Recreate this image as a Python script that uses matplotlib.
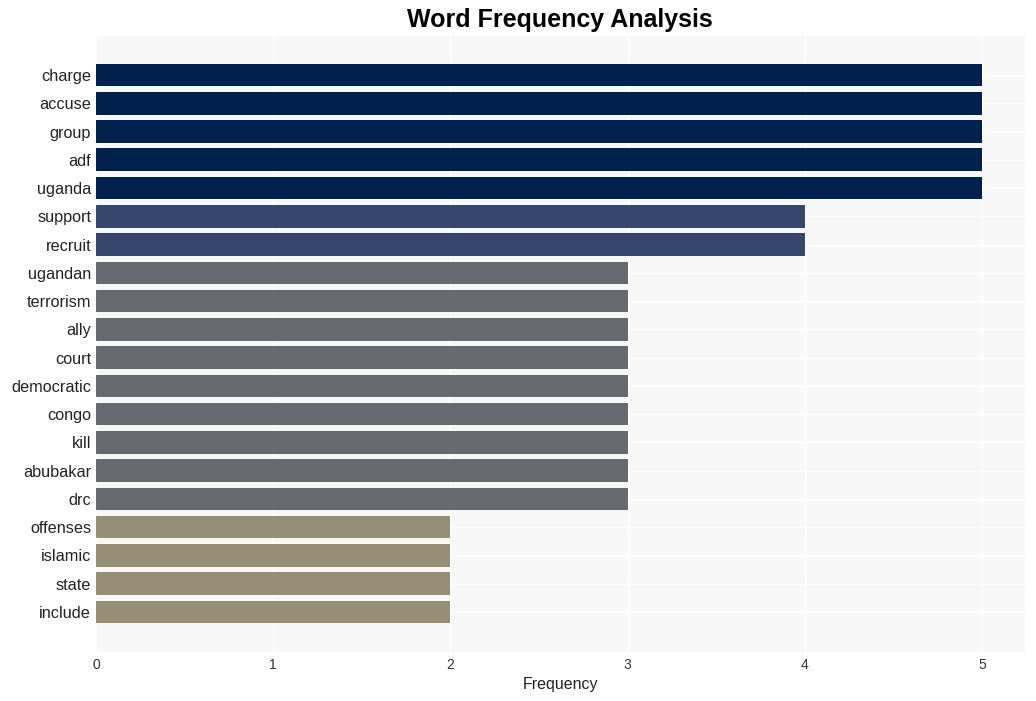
import matplotlib
matplotlib.use("Agg")
import matplotlib.pyplot as plt

words = ["charge", "accuse", "group", "adf", "uganda", "support", "recruit",
         "ugandan", "terrorism", "ally", "court", "democratic", "congo", "kill",
         "abubakar", "drc", "offenses", "islamic", "state", "include"]
freqs = [5, 5, 5, 5, 5, 4, 4, 3, 3, 3, 3, 3, 3, 3, 3, 3, 2, 2, 2, 2]
color_map = {5: "#00204D", 4: "#37466D", 3: "#666970", 2: "#958F78"}

plt.rcParams["font.family"] = ["Liberation Sans", "DejaVu Sans"]

fig = plt.figure(figsize=(10.36, 7.01), dpi=100)
ax = fig.add_axes([0.0927, 0.0699, 0.8963, 0.8787])
ax.set_facecolor("#F7F7F7")

ypos = list(range(len(words)))
ax.barh(ypos, freqs, height=0.8, color=[color_map[f] for f in freqs], zorder=3)

ax.set_ylim(len(words) - 1 + 1.42, -1.38)
ax.set_xlim(0, 5.24)
ax.set_yticks(ypos)
ax.set_yticklabels(words, fontsize=11.7, color="#222222")
ax.set_xticks([0, 1, 2, 3, 4, 5])
ax.set_xticklabels(["0", "1", "2", "3", "4", "5"], fontsize=10, color="#333333")
ax.grid(True, which="major", color="white", linewidth=1.0, zorder=0)
ax.tick_params(axis="y", which="both", length=0, pad=3.5)
ax.tick_params(axis="x", which="both", length=0, pad=4)
for s in ax.spines.values():
    s.set_visible(False)

ax.set_xlabel("Frequency", fontsize=11.5, color="#222222", labelpad=4)
fig.suptitle("Word Frequency Analysis", fontsize=18, fontweight="bold", x=0.54, y=0.988)

fig.savefig("out.png", dpi=100, facecolor="white")
